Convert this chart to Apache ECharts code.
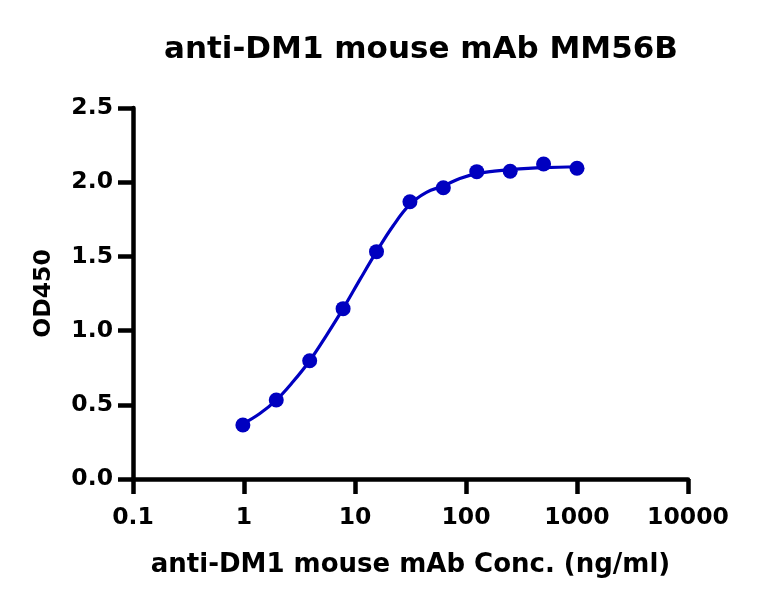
<!DOCTYPE html>
<html>
<head>
<meta charset="utf-8">
<script src="https://cdn.jsdelivr.net/npm/echarts@6/dist/echarts.min.js"></script>
<style>html,body{margin:0;padding:0;background:#fff}#c{width:777px;height:608px}</style>
</head>
<body>
<div id="c"></div>
<script>
var concentrations = [0.977, 1.953, 3.906, 7.8125, 15.625, 31.25, 62.5, 125, 250, 500, 1000];
var od450 = [0.364, 0.532, 0.797, 1.148, 1.532, 1.868, 1.963, 2.071, 2.074, 2.123, 2.094];
var fitX = [0.977, 1.38, 1.953, 2.76, 3.906, 5.5, 7.8125, 11, 15.625, 22, 31.25, 44, 62.5, 88, 125, 180, 250, 500, 1000];
var fitY = [0.372, 0.44, 0.532, 0.655, 0.797, 0.965, 1.148, 1.34, 1.532, 1.705, 1.85, 1.932, 1.975, 2.025, 2.058, 2.075, 2.085, 2.098, 2.104];
var xTicks = [0.1, 1, 10, 100, 1000, 10000];
var yTicks = ['0.0', '0.5', '1.0', '1.5', '2.0', '2.5'];

var chart = echarts.init(document.getElementById('c'));
var font = 'DejaVu Sans';
var blue = '#0000C0';
chart.setOption({
  animation: false,
  title: {
    text: 'anti-DM1 mouse mAb MM56B',
    left: 416, top: 29, textAlign: 'center',
    textStyle: {fontFamily: font, fontWeight: 'bold', fontSize: 31, color: '#000'}
  },
  grid: {left: 133, right: 89, top: 108, bottom: 129},
  xAxis: {
    type: 'log', logBase: 10, min: xTicks[0], max: xTicks[xTicks.length - 1],
    name: 'anti-DM1 mouse mAb Conc. (ng/ml)', nameLocation: 'middle', nameGap: 73,
    nameTextStyle: {fontFamily: font, fontWeight: 'bold', fontSize: 26, color: '#000'},
    axisLine: {lineStyle: {color: '#000', width: 4.5}},
    axisTick: {length: 15, lineStyle: {color: '#000', width: 4.5}},
    minorTick: {show: false},
    splitLine: {show: false},
    axisLabel: {fontFamily: font, fontWeight: 'bold', fontSize: 23.5, color: '#000', margin: 27,
      formatter: function (v) { return String(v); }}
  },
  yAxis: {
    type: 'value', min: 0, max: 2.5, interval: 0.5,
    name: 'OD450', nameLocation: 'middle', nameGap: 77,
    nameTextStyle: {fontFamily: font, fontWeight: 'bold', fontSize: 23.5, color: '#000'},
    axisLine: {show: true, lineStyle: {color: '#000', width: 4.5}},
    axisTick: {show: true, length: 15, lineStyle: {color: '#000', width: 4.5}},
    splitLine: {show: false},
    axisLabel: {fontFamily: font, fontWeight: 'bold', fontSize: 23.5, color: '#000', margin: 20,
      formatter: function (v) { return yTicks[Math.round(v / 0.5)]; }}
  },
  series: [
    {
      type: 'line', data: fitX.map(function (x, i) { return [x, fitY[i]]; }),
      smooth: 0.4, showSymbol: false, symbol: 'none',
      lineStyle: {color: blue, width: 3.2}, z: 2
    },
    {
      type: 'scatter', data: concentrations.map(function (x, i) { return [x, od450[i]]; }),
      symbolSize: 15, itemStyle: {color: blue, opacity: 1}, z: 3
    }
  ]
});
</script>
</body>
</html>
